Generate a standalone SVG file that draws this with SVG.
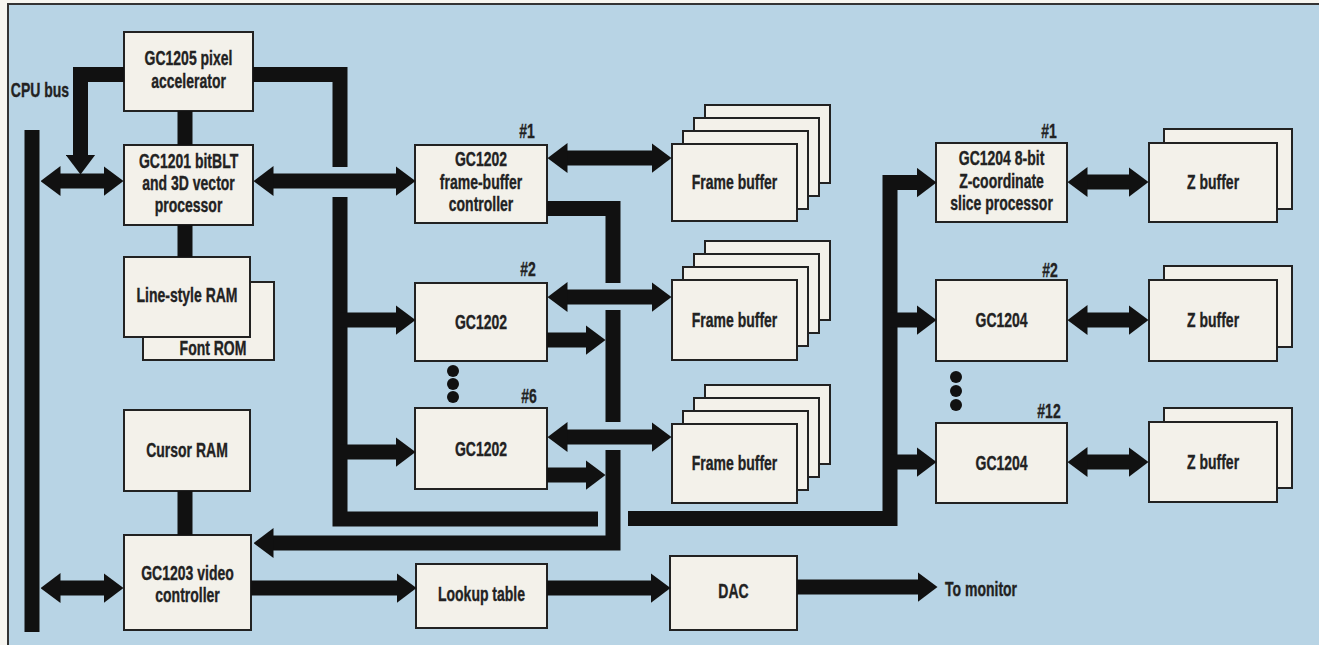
<svg xmlns="http://www.w3.org/2000/svg" width="1319" height="645" viewBox="0 0 1319 645">
<style>
.bx{fill:#f3f1ea;stroke:#222;stroke-width:2}
.t{font-family:"Liberation Sans",Arial,sans-serif;font-weight:bold;font-size:20px;fill:#222;stroke:#222;stroke-width:0.35;text-anchor:middle;transform-box:fill-box;transform-origin:center;transform:scaleX(0.7)}
.c{fill:none;stroke:#111;stroke-width:15;stroke-linejoin:miter;stroke-linecap:butt}
.ae{marker-end:url(#ah)}
.ab{marker-start:url(#ah);marker-end:url(#ah)}
.dot{fill:#111}
</style>
<defs>
<marker id="ah" viewBox="0 0 20 30" refX="0.5" refY="15" markerWidth="20" markerHeight="30" markerUnits="userSpaceOnUse" orient="auto-start-reverse">
<path d="M0,0 L20,15 L0,30 Z" fill="#111"/>
</marker>
</defs>
<rect x="0" y="0" width="1319" height="645" fill="#f6f5f0"/>
<rect x="8" y="4" width="1311" height="641" fill="#b8d4e5"/>
<path d="M8,645 V4 H1319" fill="none" stroke="#333" stroke-width="2"/>
<text class="t" x="40" y="97">CPU bus</text>

<g id="gc1205"><rect class="bx" x="124" y="32" width="129" height="79"/><text class="t" x="188.5" y="65">GC1205 pixel</text><text class="t" x="188.5" y="88">accelerator</text></g>
<g id="gc1201"><rect class="bx" x="124" y="145" width="129" height="80"/><text class="t" x="188.5" y="168">GC1201 bitBLT</text><text class="t" x="188.5" y="190">and 3D vector</text><text class="t" x="188.5" y="212">processor</text></g>
<g id="fontrom"><rect class="bx" x="143" y="282" width="131" height="78"/><text class="t" x="213" y="355">Font ROM</text></g>
<g id="linestyle"><rect class="bx" x="124" y="257" width="126" height="80"/><text class="t" x="187" y="302">Line-style RAM</text></g>
<g id="cursorram"><rect class="bx" x="124" y="410" width="126" height="81"/><text class="t" x="187" y="457">Cursor RAM</text></g>
<g id="gc1203"><rect class="bx" x="124" y="535" width="127" height="95"/><text class="t" x="187.5" y="580">GC1203 video</text><text class="t" x="187.5" y="602">controller</text></g>

<g id="gc1202-1"><text class="t" x="527" y="138">#1</text><rect class="bx" x="415" y="145" width="132" height="78"/><text class="t" x="481" y="166">GC1202</text><text class="t" x="481" y="189">frame-buffer</text><text class="t" x="481" y="211">controller</text></g>
<g id="gc1202-2"><text class="t" x="528" y="276">#2</text><rect class="bx" x="415" y="283" width="132" height="78"/><text class="t" x="481" y="329">GC1202</text></g>
<g id="dots-gc1202"><circle class="dot" cx="453" cy="371" r="6"/><circle class="dot" cx="453" cy="384" r="6"/><circle class="dot" cx="453" cy="397" r="6"/></g>
<g id="gc1202-6"><text class="t" x="529" y="403">#6</text><rect class="bx" x="415" y="408" width="132" height="81"/><text class="t" x="481" y="456">GC1202</text></g>

<g id="fb-1"><rect class="bx" x="705" y="105" width="125" height="78"/><rect class="bx" x="694" y="118" width="125" height="78"/><rect class="bx" x="683" y="131" width="125" height="78"/><rect class="bx" x="672" y="144" width="125" height="77"/><text class="t" x="734.5" y="189">Frame buffer</text></g>
<g id="fb-2"><rect class="bx" x="705" y="241" width="125" height="79"/><rect class="bx" x="694" y="254" width="125" height="79"/><rect class="bx" x="683" y="267" width="125" height="79"/><rect class="bx" x="672" y="280" width="125" height="80"/><text class="t" x="734.5" y="327">Frame buffer</text></g>
<g id="fb-6"><rect class="bx" x="705" y="385" width="125" height="79"/><rect class="bx" x="694" y="398" width="125" height="79"/><rect class="bx" x="683" y="411" width="125" height="79"/><rect class="bx" x="672" y="424" width="125" height="79"/><text class="t" x="734.5" y="470">Frame buffer</text></g>

<g id="gc1204-1"><text class="t" x="1049" y="138">#1</text><rect class="bx" x="936" y="143" width="131" height="79"/><text class="t" x="1001.5" y="165">GC1204 8-bit</text><text class="t" x="1001.5" y="188">Z-coordinate</text><text class="t" x="1001.5" y="210">slice processor</text></g>
<g id="gc1204-2"><text class="t" x="1050" y="277">#2</text><rect class="bx" x="936" y="280" width="131" height="81"/><text class="t" x="1001.5" y="327">GC1204</text></g>
<g id="dots-gc1204"><circle class="dot" cx="956" cy="377" r="6"/><circle class="dot" cx="956" cy="391" r="6"/><circle class="dot" cx="956" cy="405" r="6"/></g>
<g id="gc1204-12"><text class="t" x="1049" y="418">#12</text><rect class="bx" x="936" y="423" width="131" height="80"/><text class="t" x="1001.5" y="470">GC1204</text></g>

<g id="zb-1"><rect class="bx" x="1164" y="129" width="128" height="80"/><rect class="bx" x="1149" y="143" width="128" height="79"/><text class="t" x="1213" y="189">Z buffer</text></g>
<g id="zb-2"><rect class="bx" x="1164" y="266" width="128" height="81"/><rect class="bx" x="1149" y="280" width="128" height="81"/><text class="t" x="1213" y="327">Z buffer</text></g>
<g id="zb-12"><rect class="bx" x="1164" y="408" width="128" height="80"/><rect class="bx" x="1149" y="422" width="128" height="80"/><text class="t" x="1213" y="469">Z buffer</text></g>

<g id="lookup"><rect class="bx" x="416" y="564" width="131" height="64"/><text class="t" x="481.5" y="601">Lookup table</text></g>
<g id="dac"><rect class="bx" x="670" y="556" width="127" height="74"/><text class="t" x="733.5" y="598">DAC</text></g>
<text class="t" x="981" y="596">To monitor</text>

<g id="connectors">
<path class="c" d="M32,130 V632" stroke-width="16"/>
<path class="c ab" d="M60,181 H104"/>
<path class="c ae" d="M124,74.5 H80.5 V155"/>
<path class="c" d="M185,111 V145 M185,225 V257 M185,491 V535" stroke-width="16"/>
<path class="c" d="M253,74.5 H340 V167"/>
<path class="c" d="M340,197 V519 H598"/>
<path class="c ae" d="M340,320 H396"/>
<path class="c ae" d="M340,452 H396"/>
<path class="c ab" d="M273,181 H396"/>
<path class="c ab" d="M567,158 H652"/>
<path class="c ab" d="M567,297 H652"/>
<path class="c ab" d="M567,437 H652"/>
<path class="c" d="M547,208.5 H613 V283"/>
<path class="c" d="M613,310 V422"/>
<path class="c ae" d="M613,450 V543 H273"/>
<path class="c ae" d="M547,340 H586"/>
<path class="c ae" d="M547,475 H586"/>
<path class="c ae" d="M628,518.5 H890 V182.5 H917"/>
<path class="c ae" d="M890,320 H917"/>
<path class="c ae" d="M890,462 H917"/>
<path class="c ab" d="M1087,182 H1129"/>
<path class="c ab" d="M1087,320 H1129"/>
<path class="c ab" d="M1087,462 H1129"/>
<path class="c ab" d="M60,588 H104"/>
<path class="c ae" d="M251,588 H397"/>
<path class="c ae" d="M547,588 H651"/>
<path class="c ae" d="M797,587 H918"/>
</g>
</svg>
